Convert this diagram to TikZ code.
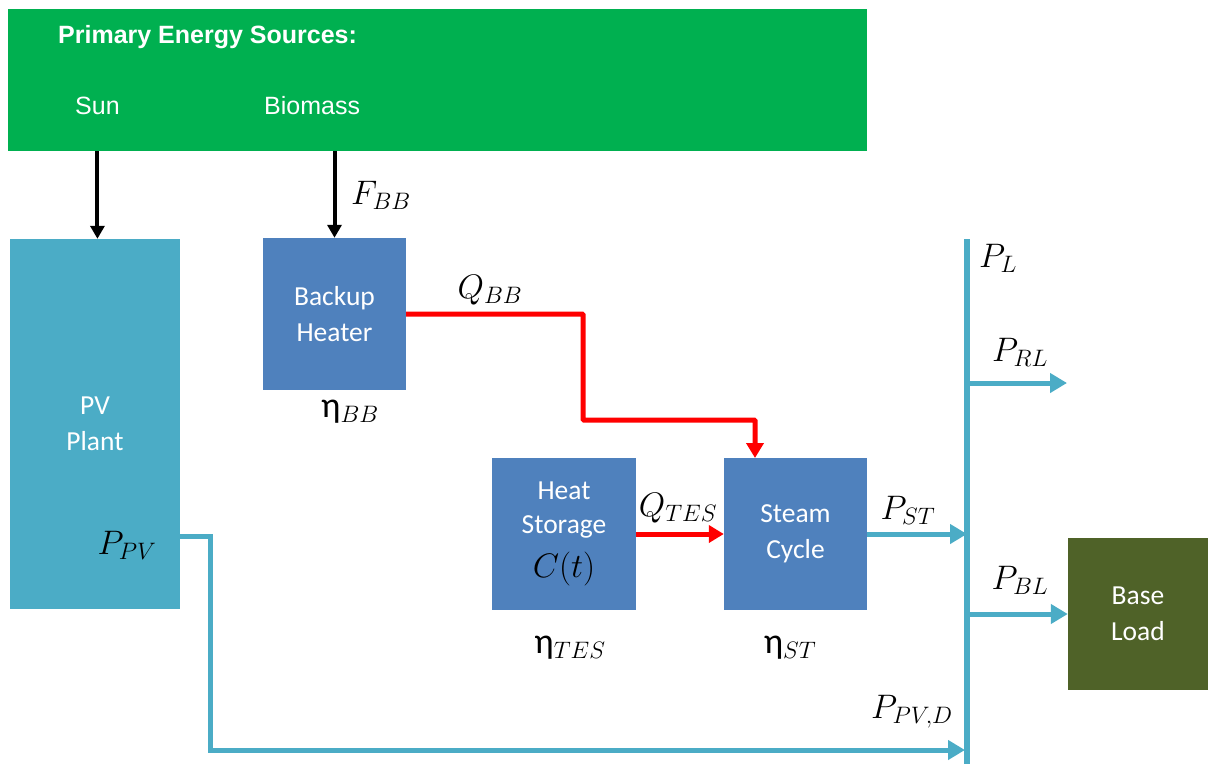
\documentclass[tikz,border=0pt]{standalone}
\usepackage{fix-cm}
\usepackage{fontspec}
\setmainfont{Carlito}
\newfontfamily\arialfont{Liberation Sans}
\newfontfamily\calfont{Carlito}
\usetikzlibrary{arrows.meta,calc}

\definecolor{srcgreen}{HTML}{00B050}
\definecolor{pvblue}{HTML}{4BACC6}
\definecolor{unitblue}{HTML}{4F81BD}
\definecolor{loadolive}{HTML}{4F6228}

\newcommand{\effsym}{{\calfont\fontsize{36}{40}\selectfont η}}

\tikzset{
  unitbox/.style={fill=unitblue,text=white,align=center,inner sep=0pt,
    minimum width=143,minimum height=152,font=\calfont\fontsize{27.5}{36}\selectfont},
  srctext/.style={text=white,anchor=west,inner sep=0pt,font=\arialfont\fontsize{25}{28}\selectfont},
  sym/.style={inner sep=0pt,font=\fontsize{34}{40}\selectfont},
  fuelflow/.style={line width=4,-{Triangle[length=13,width=14]}},
  heatflow/.style={red,line width=5,-{Triangle[length=15,width=17]}},
  powerflow/.style={pvblue,line width=5,-{Triangle[length=17,width=19]}},
}

\begin{document}
\begin{tikzpicture}[x=1pt,y=1pt,yscale=-1]
\useasboundingbox (0,0) rectangle (1208,764);

% Sources banner
\node[fill=srcgreen,minimum width=859,minimum height=142,inner sep=0pt] (src) at (437.5,80) {};
\node[srctext,font=\arialfont\bfseries\fontsize{25}{28}\selectfont] (title) at (58,37) {Primary Energy Sources:};
\node[srctext] (sun) at (75,106) {Sun};
\node[srctext] (bio) at (264,106) {Biomass};

% Units
\node[fill=pvblue,text=white,align=center,inner sep=0pt,minimum width=170,minimum height=370,
  font=\calfont\fontsize{27.5}{36}\selectfont] (pv) at (95,424) {PV\\Plant};
\node[unitbox] (bh) at (334.5,314) {Backup\\Heater};
\node[unitbox,minimum width=144,font=\calfont\fontsize{27.5}{34}\selectfont] (hs) at (564,534)
  {Heat\\Storage\\[10pt]\textcolor{black}{\fontsize{34}{40}\selectfont$C(t)$}};
\node[unitbox] (sc) at (795.5,534) {Steam\\Cycle};
\node[unitbox,fill=loadolive,minimum width=140] (bl) at (1138,614) {Base\\Load};

% Bus
\coordinate (busT) at (967,239);
\coordinate (busB) at (967,764);
\draw[pvblue,line width=6] (busT) -- (busB);

% Fuel arrows
\draw[fuelflow] (sun.center |- src.south) -- (sun.center |- pv.north);
\draw[fuelflow] (bh.north |- src.south) -- (bh.north);

% Heat
\coordinate (scin) at (755,458);
\draw[heatflow,rounded corners=1] (bh.east) -- (583,314) -- (583,420) -| (scin);
\draw[heatflow] (hs.east) -- (sc.west);

% Power
\coordinate (pvout) at (180,536);
\coordinate (rlout) at (1067,383);
\draw[powerflow] (sc.east) -- (sc.east -| busT);
\draw[powerflow] (busT |- rlout) -- (rlout);
\draw[powerflow] (busT |- bl.west) -- (bl.west);
\draw[powerflow] (pvout) -- ++(30,0) |- ($(busT |- 0,750)+(-2,0)$);

% Text Node
\node[sym] (fbb) at (381,195) {$F_{BB}$};
\node[sym] (qbb) at (490,290) {$Q_{BB}$};
\node[sym] (etabb) at (350,412) {\effsym$_{BB}$};
\node[sym] (qtes) at (678,508) {$Q_{TES}$};
\node[sym] (etates) at (570,648) {\effsym$_{TES}$};
\node[sym] (etast) at (790,648) {\effsym$_{ST}$};
\node[sym] (pst) at (908,510) {$P_{ST}$};
\node[sym] (pl) at (998,258) {$P_L$};
\node[sym] (prl) at (1020,352) {$P_{RL}$};
\node[sym] (pbl) at (1020,580) {$P_{BL}$};
\node[sym] (ppvd) at (912,712) {$P_{PV,D}$};
\node[sym] (ppv) at (127,545) {$P_{PV}$};

\end{tikzpicture}
\end{document}
